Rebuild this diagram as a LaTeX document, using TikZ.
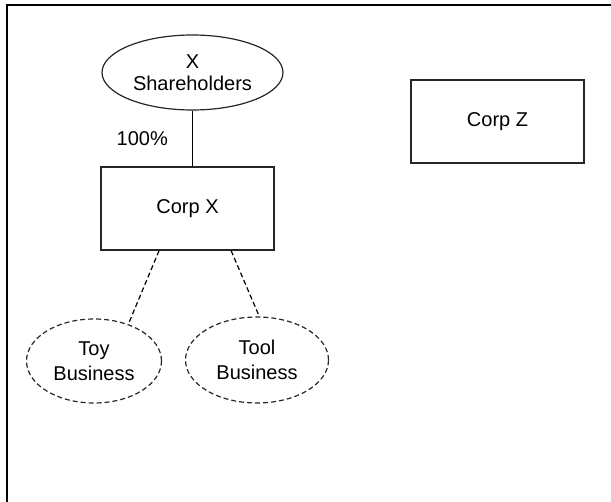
\documentclass[tikz,border=0pt]{standalone}
\usepackage{fontspec}
\setmainfont{Liberation Sans}
\usetikzlibrary{shapes.geometric}

\begin{document}
\begin{tikzpicture}[x=0.5pt, y=-0.5pt, font=\fontsize{10}{11}\selectfont]
    \tikzstyle{corp_style} = [rectangle,draw=black!85,line width=0.6pt,minimum width=86.5pt,minimum height=41.5pt,inner sep=0pt]
    \tikzstyle{owner_style} = [ellipse,draw=black!85,line width=0.6pt,align=center,inner sep=0pt,minimum width=90.5pt,minimum height=37.5pt]
    \tikzstyle{branch_style} = [ellipse,draw=black!85,line width=0.6pt,dash pattern=on 2.5pt off 1.5pt,align=center,inner sep=0pt,font=\fontsize{10}{12.5}\selectfont]
    \tikzstyle{edge_style} = [draw=black, line width=0.7pt]
    \tikzstyle{branch_edge} = [draw=black, line width=0.6pt, dash pattern=on 2.5pt off 1.5pt]
    \useasboundingbox (0,0) rectangle (611,502);
    \draw[line width=1pt] (7,502) -- (7,5) -- (611,5);

    \node[owner_style] (sh) at (192.5,72.5) {X\\Shareholders};
    \node[corp_style] (cx) at (187.5,208.5) {Corp X};
    \node[corp_style] (cz) at (497.5,121.5) {Corp Z};
    \node[branch_style, minimum width=67.5pt, minimum height=42pt] (toy) at (94,361) {Toy\\Business};
    \node[branch_style, minimum width=71.5pt, minimum height=43pt] (tool) at (257,360) {Tool\\Business};

    \draw[edge_style] (sh) -- node[left=12pt, inner sep=0pt] {100\%} (sh |- cx.north);
    \draw[branch_edge] (cx.-124) -- (toy.47);
    \draw[branch_edge] (cx.-44) -- (tool.87);
\end{tikzpicture}
\end{document}
